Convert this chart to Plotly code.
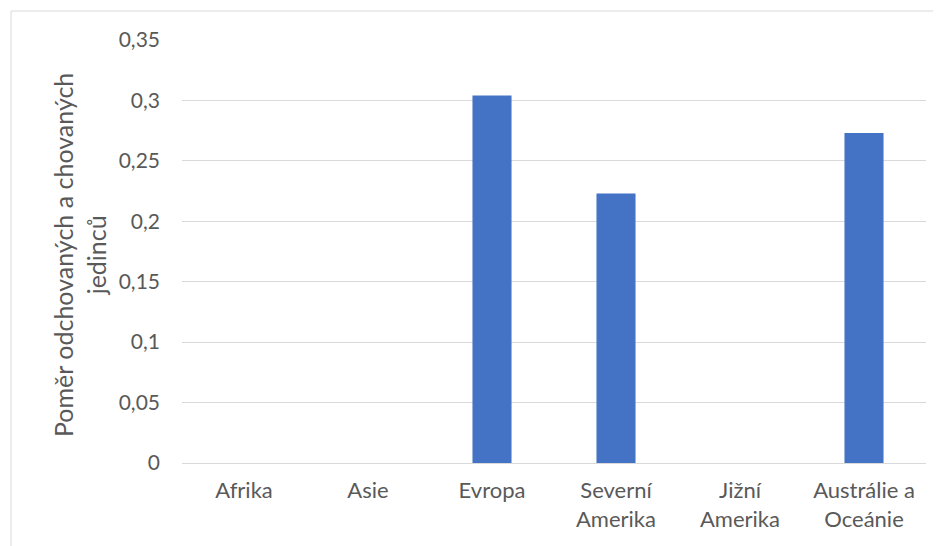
import plotly.graph_objects as go

categories = ["Afrika", "Asie", "Evropa", "Severní<br>Amerika", "Jižní<br>Amerika", "Austrálie a<br>Oceánie"]
values = [0, 0, 0.304, 0.223, 0, 0.273]
y_ticks = [0, 0.05, 0.1, 0.15, 0.2, 0.25, 0.3, 0.35]
y_tick_labels = ["0", "0,05", "0,1", "0,15", "0,2", "0,25", "0,3", "0,35"]
y_title = "Poměr odchovaných a chovaných<br>jedinců"

OFF = 8  # page body offset
W, H = 941 - OFF, 546 - OFF
L, R, T, B = 182 - OFF, 15, 40 - OFF, 83
pw, ph = W - L - R, H - T - B

fig = go.Figure(go.Bar(x=categories, y=values, marker=dict(color="#4472C4", line=dict(width=0))))

fig.update_layout(
    width=W, height=H,
    margin=dict(l=L, r=R, t=T, b=B),
    paper_bgcolor="white", plot_bgcolor="white",
    font=dict(family="Lato", size=22, color="#595959"),
    bargap=0.685,
    showlegend=False,
    xaxis=dict(showgrid=False, showline=False, ticks="", tickangle=0,
               ticklabelstandoff=12,
               tickfont=dict(size=22, color="#595959")),
    yaxis=dict(range=[0, 0.35], tickvals=y_ticks, ticktext=y_tick_labels,
               showgrid=True, gridcolor="#D9D9D9", gridwidth=1,
               zeroline=True, zerolinecolor="#D9D9D9", zerolinewidth=1,
               showline=False, ticks="", ticklabelstandoff=21,
               tickfont=dict(size=21, color="#595959")),
)

fig.add_annotation(text=y_title, xref="paper", yref="paper",
                   x=(80 - 182) / pw, y=(463 - 255) / ph, xanchor="center", yanchor="middle",
                   textangle=-90, showarrow=False,
                   font=dict(size=25, color="#595959", family="Lato"))

fig.add_shape(type="rect", xref="paper", yref="paper",
              x0=(11 - 182) / pw, x1=1.2, y0=-0.5, y1=(463 - 11) / ph,
              line=dict(color="#D9D9D9", width=1), fillcolor="rgba(0,0,0,0)", layer="below")

fig.write_html("out.html")
